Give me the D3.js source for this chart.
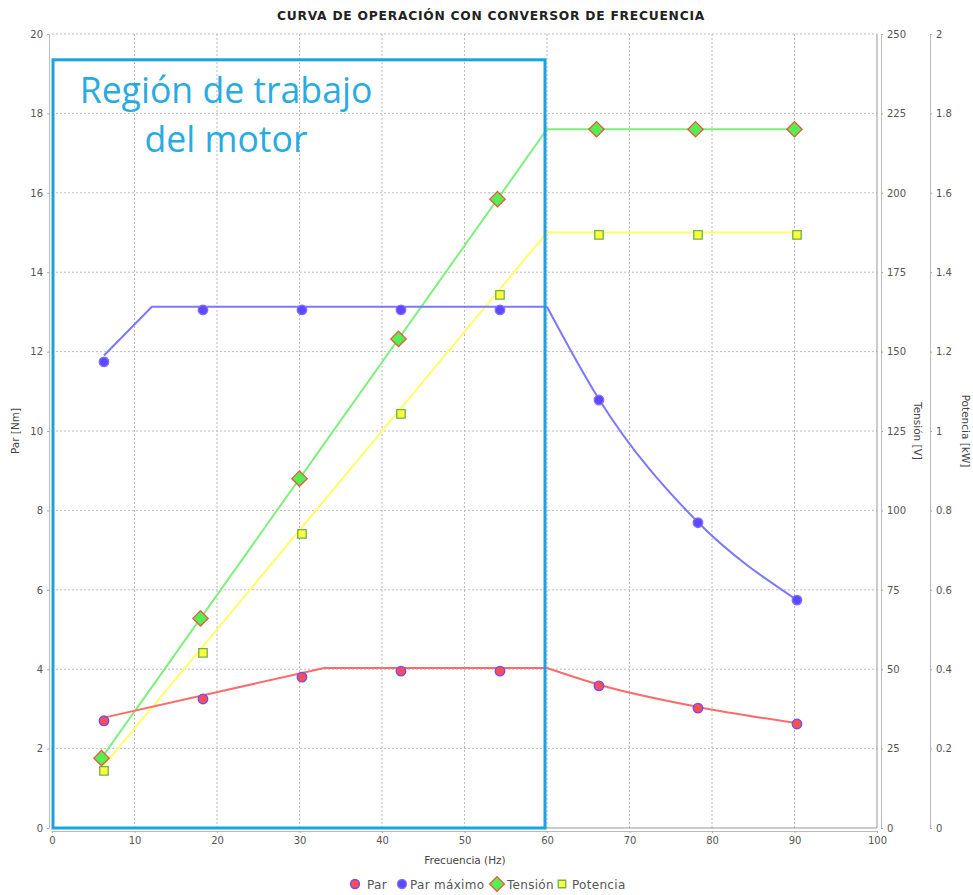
<!DOCTYPE html>
<html>
<head>
<meta charset="utf-8">
<script src="https://cdn.jsdelivr.net/npm/d3@7"></script>
<style>
  html, body { margin: 0; padding: 0; background: #fff; }
  svg { display: block; font-family: "DejaVu Sans", sans-serif; }
</style>
</head>
<body>
<svg id="chart" width="973" height="895"></svg>
<script>
// Measured operating points (frequency in Hz)
const freqPts      = [6.3, 18.3, 30.3, 42.3, 54.3, 66.3, 78.3, 90.3];
const freqTension  = [6, 18, 30, 42, 54, 66, 78, 90];
const par          = [2.70, 3.25, 3.80, 3.95, 3.95, 3.58, 3.02, 2.62];     // Nm
const parMaximo    = [11.74, 13.05, 13.05, 13.05, 13.05, 10.78, 7.69, 5.74]; // Nm
const tension      = [22, 66, 110, 154, 198, 220, 220, 220];                 // V
const potencia     = [0.144, 0.441, 0.741, 1.043, 1.343, 1.494, 1.494, 1.494]; // kW

// Model curves: straight part, then field-weakening part above 60 Hz
const parRiseFreq = [6.3, 33, 60],           parRise = [2.78, 4.03, 4.03];
const parFallFreq = [60, 66.3, 78.3, 90.3],  parFall = [4.03, 3.61, 3.05, 2.64];
const parMaxRiseFreq = [6.3, 12.1, 60],      parMaxRise = [11.9, 13.13, 13.13];
const parMaxFallFreq = [60, 66.3, 78.3, 90.3], parMaxFall = [13.13, 10.8, 7.7, 5.74];
const tensionLineFreq = [6, 60, 90],         tensionLine = [22, 220, 220];
const potenciaLineFreq = [6.3, 60, 90.3],    potenciaLine = [0.158, 1.5, 1.5];

// Axis ticks
const xTicks = [0, 10, 20, 30, 40, 50, 60, 70, 80, 90, 100];
const parTicks = [0, 2, 4, 6, 8, 10, 12, 14, 16, 18, 20];
const tensionTicks = [0, 25, 50, 75, 100, 125, 150, 175, 200, 225, 250];
const potenciaTicks = [0, 0.2, 0.4, 0.6, 0.8, 1, 1.2, 1.4, 1.6, 1.8, 2];

const title = "CURVA DE OPERACIÓN CON CONVERSOR DE FRECUENCIA";
const regionLines = ["Región de trabajo", "del motor"];
const regionEnd = 60;       // Hz
const regionTop = 19.35;    // Nm

const colors = {
  par: "#ff6b6b", parFill: "#ff4d55", parStroke: "#6a4dff",
  parMax: "#7b78ff", parMaxFill: "#5b4bff",
  tension: "#7df07d", tensionFill: "#55ee55", tensionStroke: "#e9583c",
  potencia: "#ffff66", potenciaFill: "#ffff3a", potenciaStroke: "#6cb14a",
  region: "#1aa3e0", regionText: "#29abe2"
};

const svg = d3.select("#chart");
const L = 52, R = 877, T = 34, B = 828;

const x = d3.scaleLinear().domain([0, 100]).range([L, R]);
const yPar = d3.scaleLinear().domain([0, 20]).range([B, T]);
const yTen = d3.scaleLinear().domain([0, 250]).range([B, T]);
const yPot = d3.scaleLinear().domain([0, 2]).range([B, T]);

// Title
svg.append("text").attr("x", 491).attr("y", 20).attr("text-anchor", "middle")
  .attr("font-size", 12.3).attr("font-weight", "bold").attr("fill", "#222")
  .attr("letter-spacing", 0.75)
  .text(title);

// Grid
const grid = svg.append("g").attr("stroke", "#bbb").attr("stroke-dasharray", "2,2").attr("stroke-width", 1);
xTicks.filter(d => d > 0 && d < 100).forEach(d => {
  grid.append("line").attr("x1", x(d)).attr("x2", x(d)).attr("y1", T).attr("y2", B);
});
parTicks.filter(d => d > 0).forEach(d => {
  grid.append("line").attr("x1", L).attr("x2", R).attr("y1", yPar(d)).attr("y2", yPar(d));
});
// plot outline (right and bottom)
svg.append("path").attr("d", `M${R},${T}V${B}H${L}`).attr("fill", "none").attr("stroke", "#999");

// Axes
function styleAxis(g) {
  g.selectAll("path.domain").attr("stroke", "#bbb");
  g.selectAll(".tick line").attr("stroke", "#aaa");
  g.selectAll(".tick text").attr("fill", "#555").attr("font-size", 10).attr("font-family", "DejaVu Sans, sans-serif");
}
svg.append("g").attr("transform", `translate(0,${B + 3})`)
  .call(d3.axisBottom(x).tickValues(xTicks).tickSize(2).tickSizeOuter(0).tickPadding(4))
  .call(styleAxis);
svg.append("g").attr("transform", `translate(${L - 3},0)`)
  .call(d3.axisLeft(yPar).tickValues(parTicks).tickSize(2).tickSizeOuter(0).tickPadding(4))
  .call(styleAxis);
svg.append("g").attr("transform", `translate(${R + 4},0)`)
  .call(d3.axisRight(yTen).tickValues(tensionTicks).tickSize(2).tickSizeOuter(0).tickPadding(4))
  .call(styleAxis);
svg.append("g").attr("transform", `translate(930,0)`)
  .call(d3.axisRight(yPot).tickValues(potenciaTicks).tickSize(2).tickSizeOuter(0).tickPadding(4)
    .tickFormat(d => d3.format("~g")(d)))
  .call(styleAxis);

// Axis titles
const axisTitle = (tx, ty, rot, txt) => svg.append("text")
  .attr("transform", `translate(${tx},${ty}) rotate(${rot})`)
  .attr("text-anchor", "middle").attr("font-size", 10.5).attr("fill", "#444").text(txt);
axisTitle(465, 864, 0, "Frecuencia (Hz)");
axisTitle(19, 431, -90, "Par [Nm]");
axisTitle(914, 431, 90, "Tensión [V]");
axisTitle(962, 431, 90, "Potencia [kW]");

// Lines
function drawLine(xs, ys, yScale, color, curve) {
  const pts = xs.map((d, i) => [x(d), yScale(ys[i])]);
  svg.append("path").attr("d", d3.line().curve(curve || d3.curveLinear)(pts))
    .attr("fill", "none").attr("stroke", color).attr("stroke-width", 2);
}
drawLine(tensionLineFreq, tensionLine, yTen, colors.tension);
drawLine(potenciaLineFreq, potenciaLine, yPot, colors.potencia);
drawLine(parMaxRiseFreq, parMaxRise, yPar, colors.parMax);
drawLine(parMaxFallFreq, parMaxFall, yPar, colors.parMax, d3.curveMonotoneX);
drawLine(parRiseFreq, parRise, yPar, colors.par);
drawLine(parFallFreq, parFall, yPar, colors.par, d3.curveMonotoneX);

// Markers
const sym = (type, size) => d3.symbol().type(type).size(size)();
function drawMarkers(xs, ys, yScale, type, size, fill, stroke) {
  svg.append("g").selectAll("path").data(xs).join("path")
    .attr("transform", (d, i) => `translate(${x(d)},${yScale(ys[i])})`)
    .attr("d", sym(type, size)).attr("fill", fill).attr("stroke", stroke).attr("stroke-width", 1.3);
}
drawMarkers(freqPts, par, yPar, d3.symbolCircle, 72, colors.parFill, colors.parStroke);
drawMarkers(freqPts, parMaximo, yPar, d3.symbolCircle, 72, colors.parMaxFill, "#8a6cff");
drawMarkers(freqTension, tension, yTen, d3.symbolDiamond2, 150, colors.tensionFill, colors.tensionStroke);
drawMarkers(freqPts, potencia, yPot, d3.symbolSquare2, 90, colors.potenciaFill, colors.potenciaStroke);

// Working region frame and label
svg.append("rect")
  .attr("x", x(0) + 1).attr("y", yPar(regionTop))
  .attr("width", x(regionEnd) - x(0) - 3).attr("height", yPar(0) - yPar(regionTop))
  .attr("fill", "none").attr("stroke", colors.region).attr("stroke-width", 3);
const cx = 226;
svg.append("text").attr("text-anchor", "middle").attr("fill", colors.regionText)
  .attr("font-family", "Open Sans, sans-serif").attr("font-size", 35.6)
  .selectAll("tspan").data(regionLines).join("tspan")
  .attr("x", cx).attr("y", (d, i) => 103 + i * 49).text(d => d);

// Legend
const legend = [
  { label: "Par", type: d3.symbolCircle, size: 64, fill: colors.parFill, stroke: colors.parStroke, x: 355, tx: 367 },
  { label: "Par máximo", type: d3.symbolCircle, size: 64, fill: colors.parMaxFill, stroke: "#8a6cff", x: 402, tx: 410 },
  { label: "Tensión", type: d3.symbolDiamond2, size: 140, fill: colors.tensionFill, stroke: colors.tensionStroke, x: 497, tx: 507 },
  { label: "Potencia", type: d3.symbolSquare2, size: 72, fill: colors.potenciaFill, stroke: colors.potenciaStroke, x: 562, tx: 572 }
];
const lg = svg.append("g");
legend.forEach(it => {
  lg.append("path").attr("transform", `translate(${it.x},884)`).attr("d", sym(it.type, it.size))
    .attr("fill", it.fill).attr("stroke", it.stroke).attr("stroke-width", 1.3);
  lg.append("text").attr("x", it.tx).attr("y", 888.5)
    .attr("font-size", 12).attr("letter-spacing", 0.3).attr("fill", "#555").text(it.label);
});
</script>
</body>
</html>
